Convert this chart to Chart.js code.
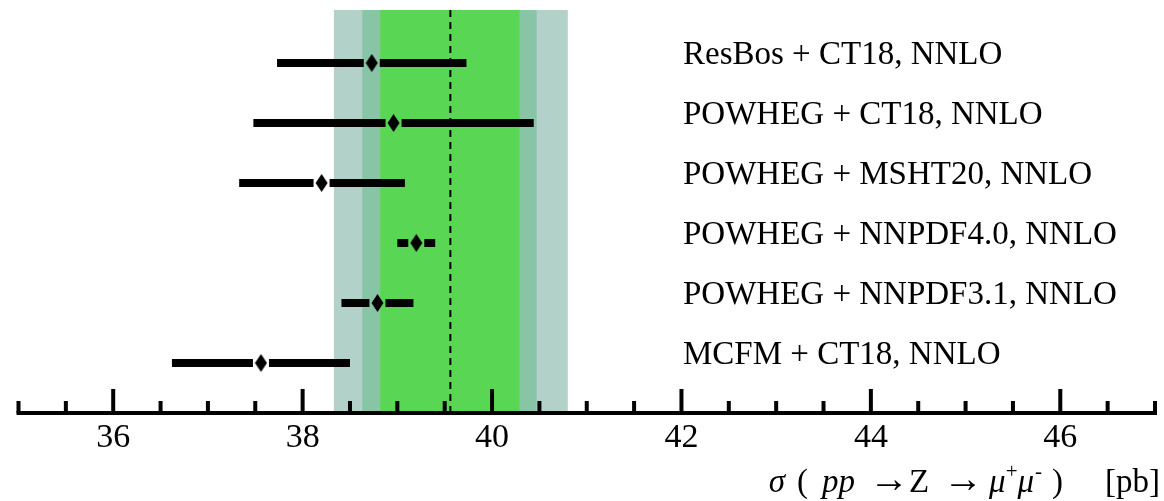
<!DOCTYPE html>
<html lang="en">
<head>
  <meta charset="UTF-8">
  <title>Z to mumu cross section</title>
  <script src="https://cdn.jsdelivr.net/npm/chart.js"></script>
  <style>
    body { margin: 0; padding: 0; background: #fff; overflow: hidden; }
    canvas { display: block; }
  </style>
</head>
<body>
  <canvas id="xsec" width="1164" height="501"></canvas>
  <script>
    // predictions, top row first
    const generators = [
      'ResBos + CT18, NNLO',
      'POWHEG + CT18, NNLO',
      'POWHEG + MSHT20, NNLO',
      'POWHEG + NNPDF4.0, NNLO',
      'POWHEG + NNPDF3.1, NNLO',
      'MCFM + CT18, NNLO'
    ];
    const central = [38.73, 38.96, 38.20, 39.20, 38.79, 37.56];
    const errLow  = [37.73, 37.48, 37.33, 39.00, 38.41, 36.62];
    const errHigh = [39.73, 40.44, 39.08, 39.40, 39.17, 38.50];

    // measurement and its uncertainty bands (inner to outer)
    const measured = 39.56;
    const bandInner = [38.82, 40.29];
    const bandMid   = [38.63, 40.47];
    const bandOuter = [38.33, 40.80];

    const xMin = 35, xMax = 47;
    const majorTicks = [36, 38, 40, 42, 44, 46];

    const serif = '"Liberation Serif", "Times New Roman", serif';

    // diamond marker, taller than wide
    function diamond() {
      const c = document.createElement('canvas');
      c.width = 13; c.height = 18;
      const g = c.getContext('2d');
      g.fillStyle = '#000';
      g.beginPath();
      g.moveTo(6.5, 0); g.lineTo(12.5, 9); g.lineTo(6.5, 18); g.lineTo(0.5, 9);
      g.closePath();
      g.fill();
      return c;
    }

    const rowY = i => generators.length - i;

    const backdrop = {
      id: 'backdrop',
      beforeDatasetsDraw(chart) {
        const { ctx, chartArea: a, scales: { x, y } } = chart;
        ctx.save();
        const band = (r, col) => {
          ctx.fillStyle = col;
          ctx.fillRect(x.getPixelForValue(r[0]), a.top, x.getPixelForValue(r[1]) - x.getPixelForValue(r[0]), a.bottom - a.top);
        };
        band(bandOuter, '#b2d1c8');
        band(bandMid, '#88c4a6');
        band(bandInner, '#5ad655');

        // dashed measured value
        ctx.strokeStyle = '#000';
        ctx.lineWidth = 2;
        ctx.setLineDash([7, 5]);
        ctx.beginPath();
        ctx.moveTo(x.getPixelForValue(measured), a.top);
        ctx.lineTo(x.getPixelForValue(measured), a.bottom);
        ctx.stroke();
        ctx.setLineDash([]);

        // error bars, with a small gap round the marker
        ctx.lineWidth = 8;
        const gap = 8;
        central.forEach((c, i) => {
          const py = y.getPixelForValue(rowY(i));
          const pc = x.getPixelForValue(c);
          ctx.beginPath();
          ctx.moveTo(x.getPixelForValue(errLow[i]), py);
          ctx.lineTo(pc - gap, py);
          ctx.moveTo(pc + gap, py);
          ctx.lineTo(x.getPixelForValue(errHigh[i]), py);
          ctx.stroke();
        });
        ctx.restore();
      },
      afterDraw(chart) {
        const { ctx, chartArea: a, scales: { x, y } } = chart;
        ctx.save();
        ctx.fillStyle = '#000';

        // row labels
        ctx.font = '33px ' + serif;
        ctx.textAlign = 'left';
        ctx.textBaseline = 'alphabetic';
        generators.forEach((g, i) => {
          ctx.fillText(g, 683, y.getPixelForValue(rowY(i)) + 1);
        });

        // axis line and inward ticks
        const base = a.bottom + 1;
        ctx.fillRect(x.getPixelForValue(xMin) - 2, base - 2, x.getPixelForValue(xMax) - x.getPixelForValue(xMin) + 4, 4);
        for (let v = xMin; v <= xMax + 1e-9; v += 0.5) {
          const px = x.getPixelForValue(v);
          const len = majorTicks.includes(v) ? 24 : 12;
          ctx.fillRect(px - 2, base - len, 4, len);
        }

        ctx.font = '34px ' + serif;
        ctx.textAlign = 'center';
        majorTicks.forEach(v => ctx.fillText(String(v), x.getPixelForValue(v), 447));

        // axis title, right aligned: [text, style, size, space before, raise]
        const parts = [
          ['σ', 'italic', 33, 0, 0], ['(', '', 33, 12, 0], ['pp', 'italic', 33, 14, 0],
          ['→', '', 40, 14, 0], ['Z', '', 33, 0, 0], ['→', '', 40, 14, 0],
          ['μ', 'italic', 33, 6, 0], ['+', '', 21, 0, 14], ['μ', 'italic', 33, 0, 0], ['-', '', 21, 1, 14],
          [')', '', 33, 10, 0], ['[pb]', '', 33, 42, 0]
        ];
        const fontOf = p => p[1] + ' ' + p[2] + 'px ' + serif;
        let total = 0;
        parts.forEach(p => { ctx.font = fontOf(p); total += p[3] + ctx.measureText(p[0]).width; });
        let cx = 1160 - total;
        ctx.textAlign = 'left';
        parts.forEach(p => {
          ctx.font = fontOf(p);
          cx += p[3];
          ctx.fillText(p[0], cx, 492 - p[4]);
          cx += ctx.measureText(p[0]).width;
        });
        ctx.restore();
      }
    };

    new Chart(document.getElementById('xsec'), {
      type: 'scatter',
      data: {
        datasets: [{
          data: central.map((c, i) => ({ x: c, y: rowY(i) })),
          pointStyle: diamond(),
          pointRadius: 8,
          pointHoverRadius: 8
        }]
      },
      options: {
        responsive: false,
        animation: false,
        layout: { padding: { left: 18.5, right: 5.5, top: 10, bottom: 89 } },
        scales: {
          x: { type: 'linear', min: xMin, max: xMax, display: false },
          y: { type: 'linear', min: 1 - 49 / 60, max: 6 + 53 / 60, display: false }
        },
        plugins: { legend: { display: false }, tooltip: { enabled: false } }
      },
      plugins: [backdrop]
    });
  </script>
</body>
</html>
